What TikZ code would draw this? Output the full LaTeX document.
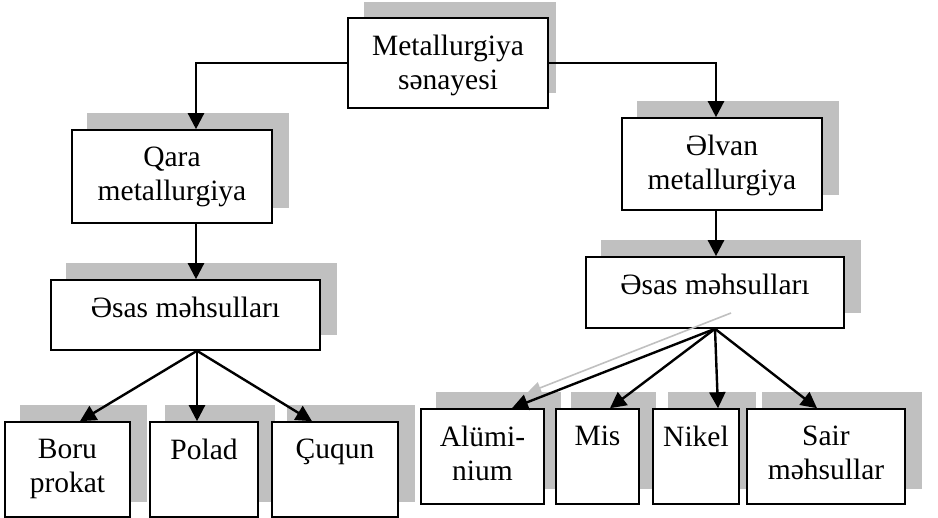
\documentclass[tikz,border=0pt]{standalone}
\usepackage{fontspec}
\setmainfont{Liberation Serif}
\usetikzlibrary{arrows.meta,calc}
\definecolor{shade}{HTML}{C0C0C0}
\pgfdeclarelayer{bg}
\pgfsetlayers{bg,main}
\begin{document}
\begin{tikzpicture}[x=1pt,y=-1pt,
  box/.style={draw,line width=1.6pt,fill=white,inner sep=0pt,rectangle},
  lbl/.style={anchor=north,align=center,inner sep=0pt,font=\fontsize{29.5}{34}\selectfont},
  shd/.style={fill=shade},
  conn/.style={line width=2.4pt,-{Triangle[length=16pt,width=16pt]}},
  ghost/.style={draw=shade,line width=1.6pt,-{Triangle[length=14pt,width=12pt,fill=shade]}}]
\useasboundingbox (0,0) rectangle (938,518);
% boxes
\node[box,minimum width=200pt,minimum height=90pt] (T) at (448,63) {};
\node[box,minimum width=200pt,minimum height=93pt] (Q) at (172,176.5) {};
\node[box,minimum width=269pt,minimum height=70pt] (L) at (185.5,315) {};
\node[box,minimum width=125pt,minimum height=95pt] (B1) at (67.5,469.5) {};
\node[box,minimum width=108pt,minimum height=95pt] (B2) at (204,469.5) {};
\node[box,minimum width=126pt,minimum height=95pt] (B3) at (335,469.5) {};
\node[box,minimum width=200pt,minimum height=92pt] (E) at (722,164) {};
\node[box,minimum width=258pt,minimum height=71pt] (R) at (715,292.5) {};
\node[box,minimum width=123pt,minimum height=95pt] (A1) at (482.5,456.5) {};
\node[box,minimum width=83pt,minimum height=95pt] (A2) at (597.5,456.5) {};
\node[box,minimum width=86pt,minimum height=95pt] (A3) at (696,456.5) {};
\node[box,minimum width=158pt,minimum height=95pt] (A4) at (826,456.5) {};
% shadows
\begin{pgfonlayer}{bg}
\fill[shd] ([shift={(17,-16)}]T.south west) rectangle ([shift={(7,-15)}]T.north east);
\foreach \b in {Q,L,B1,B2,B3,E,R,A1,A2,A3,A4}{
  \fill[shd] ([shift={(16,-16)}]\b.south west) rectangle ([shift={(16,-16)}]\b.north east);
}
\end{pgfonlayer}
% labels
\node[lbl] (tT) at ($(T.north)+(0,18)$) {Metallurgiya\\sənayesi};
\node[lbl] (tQ) at ($(Q.north)+(0,18)$) {Qara\\metallurgiya};
\node[lbl] (tL) at ($(L.north)+(0,18)$) {Əsas məhsulları};
\node[lbl] (tB1) at ($(B1.north)+(0,18)$) {Boru\\prokat};
\node[lbl] (tB2) at ($(B2.north)+(0,18)$) {Polad};
\node[lbl] (tB3) at ($(B3.north)+(0,18)$) {Çuqun};
\node[lbl] (tE) at ($(E.north)+(0,18)$) {Əlvan\\metallurgiya};
\node[lbl] (tR) at ($(R.north)+(0,18)$) {Əsas məhsulları};
\node[lbl] (tA1) at ($(A1.north)+(0,18)$) {Alümi-\\nium};
\node[lbl] (tA2) at ($(A2.north)+(0,18)$) {Mis};
\node[lbl] (tA3) at ($(A3.north)+(0,18)$) {Nikel};
\node[lbl] (tA4) at ($(A4.north)+(0,18)$) {Sair\\məhsullar};
% connectors
\draw[conn] (T.west) -| ([xshift=24pt]Q.north);
\draw[conn] (T.east) -| ([xshift=-6pt]E.north);
\draw[conn] ([xshift=24pt]Q.south) -- ([xshift=24pt]Q.south |- L.north);
\draw[conn] ([xshift=-6pt]E.south) -- ([xshift=-6pt]E.south |- R.north);
\coordinate (ls) at ([xshift=11.5pt]L.south);
\draw[conn] (ls) -- ([xshift=12.5pt]B1.north);
\draw[conn] (ls) -- ([xshift=-7pt]B2.north);
\draw[conn] (ls) -- ([xshift=-23pt]B3.north);
\coordinate (rs) at (R.south);
\coordinate (g1) at (731,313);
\coordinate (g2) at (527,393);
\draw[ghost] (g1) -- (g2);
\draw[conn] (rs) -- ([xshift=29.5pt]A1.north);
\draw[conn] (rs) -- ([xshift=12.5pt]A2.north);
\draw[conn] (rs) -- ([xshift=22pt]A3.north);
\draw[conn] (rs) -- ([xshift=-9pt]A4.north);
\end{tikzpicture}
\end{document}
